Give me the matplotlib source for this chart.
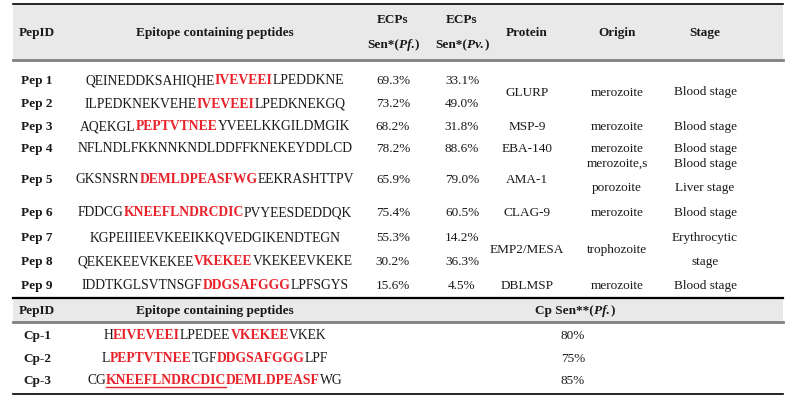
import re
import matplotlib.pyplot as plt
from matplotlib.patches import Rectangle

plt.rcParams['font.family'] = ['Liberation Serif', 'DejaVu Serif']

# table data
pep_ids = ['Pep 1', 'Pep 2', 'Pep 3', 'Pep 4', 'Pep 5', 'Pep 6', 'Pep 7', 'Pep 8', 'Pep 9']
# [..] = epitope (red bold), {..} = red bold underlined
pep_seqs = ['QEINEDDKSAHIQHE[IVEVEEI]LPEDDKNE',
            'ILPEDKNEKVEHE[IVEVEEI]LPEDKNEKGQ',
            'AQEKGL[PEPTVTNEE]YVEELKKGILDMGIK',
            'NFLNDLFKKNNKNDLDDFFKNEKEYDDLCD',
            'GKSNSRN[DEMLDPEASFWG]EEKRASHTTPV',
            'FDDCG[KNEEFLNDRCDIC]PVYEESDEDDQK',
            'KGPEIIIEEVKEEIKKQVEDGIKENDTEGN',
            'QEKEKEEVKEKEE[VKEKEE]VKEKEEVKEKE',
            'IDDTKGLSVTNSGF[DDGSAFGGG]LPFSGYS']
sen_pf = ['69.3%', '73.2%', '68.2%', '78.2%', '65.9%', '75.4%', '55.3%', '30.2%', '15.6%']
sen_pv = ['33.1%', '49.0%', '31.8%', '88.6%', '79.0%', '60.5%', '14.2%', '36.3%', '4.5%']

# merged cells: (first row, last row)
groups = [(0, 1), (2, 2), (3, 3), (4, 4), (5, 5), (6, 7), (8, 8)]
proteins = ['GLURP', 'MSP-9', 'EBA-140', 'AMA-1', 'CLAG-9', 'EMP2/MESA', 'DBLMSP']
origins = ['merozoite', 'merozoite', 'merozoite', 'merozoite,s\nporozoite',
           'merozoite', 'trophozoite', 'merozoite']
stages = ['Blood stage', 'Blood stage', 'Blood stage', 'Blood stage\nLiver stage',
          'Blood stage', 'Erythrocytic\nstage', 'Blood stage']

cp_ids = ['Cp-1', 'Cp-2', 'Cp-3']
cp_seqs = ['H[EIVEVEEI]LPEDEE[VKEKEE]VKEK',
           'L[PEPTVTNEE]TGF[DDGSAFGGG]LPF',
           'CG{KNEEFLNDRCDIC}[DEMLDPEASF]WG']
cp_sen = ['80%', '75%', '85%']

# layout (pixels)
W, H = 800, 406
col_x = {'id': 37, 'seq': 215, 'pf': 393, 'pv': 462, 'prot': 527, 'orig': 617, 'stage': 705}
row_y = [81, 104, 127, 149, 180, 213, 238, 262, 286]
cp_y = [336, 359, 381]
x0, x1 = 13, 783
FS = 9.5
SEQ_FS = 9.8
RED = '#e8232b'
INK = '#1a1a1a'

fig = plt.figure(figsize=(W / 100, H / 100), dpi=100)
ax = fig.add_axes([0, 0, 1, 1])
ax.set_xlim(0, W)
ax.set_ylim(H, 0)
ax.axis('off')
renderer = fig.canvas.get_renderer()


def text_width(s, **kw):
    # advance width, without matplotlib's bbox padding
    t1 = ax.text(0, 0, '|' + s + '|', **kw)
    t2 = ax.text(0, 0, '||', **kw)
    w = t1.get_window_extent(renderer).width - t2.get_window_extent(renderer).width
    t1.remove()
    t2.remove()
    return w


def draw_runs(x, y, runs, size=FS):
    # runs: list of (text, weight, style, color, underline); centred on x
    widths = [text_width(s, fontsize=size, fontweight=w, fontstyle=st)
              for s, w, st, c, u in runs]
    cx = x - sum(widths) / 2
    for (s, w, st, c, u), wd in zip(runs, widths):
        ax.text(cx, y, s, fontsize=size, fontweight=w, fontstyle=st, color=c,
                ha='left', va='center')
        if u:
            ax.plot([cx, cx + wd], [y + 6.5, y + 6.5], color=c, lw=1.0)
        cx += wd


def seq_runs(seq):
    runs = []
    for part in re.split(r'(\[[^\]]*\]|\{[^}]*\})', seq):
        if not part:
            continue
        if part[0] == '[':
            runs.append((part[1:-1], 'bold', 'normal', RED, False))
        elif part[0] == '{':
            runs.append((part[1:-1], 'bold', 'normal', RED, True))
        else:
            runs.append((part, 'normal', 'normal', INK, False))
    return runs


def cell(x, y, s, bold=False):
    lines = s.split('\n')
    off = (len(lines) - 1) * 12
    for i, ln in enumerate(lines):
        ax.text(x, y - off + i * 24, ln, fontsize=FS, ha='center', va='center', color=INK,
                fontweight='bold' if bold else 'normal')


# header shading and rules
ax.add_patch(Rectangle((x0, 5), x1 - x0, 56, color='#e9e9e9', lw=0))
ax.add_patch(Rectangle((x0, 300), x1 - x0, 23, color='#e9e9e9', lw=0))
ax.plot([x0, x1], [5, 5], color='black', lw=1.2)
ax.plot([x0, x1], [61, 61], color='#808080', lw=2)
ax.plot([x0, x1], [299, 299], color='black', lw=1.6)
ax.plot([x0, x1], [323, 323], color='#808080', lw=2)
ax.plot([x0, x1], [395, 395], color='black', lw=1.2)

# header text
hy = 33
cell(col_x['id'], hy, 'PepID', bold=True)
cell(col_x['seq'], hy, 'Epitope containing peptides', bold=True)
for key, sp in (('pf', 'Pf.'), ('pv', 'Pv.')):
    cell(col_x[key], 20, 'ECPs', bold=True)
    draw_runs(col_x[key], 45, [('Sen*(', 'bold', 'normal', INK, False),
                               (sp, 'bold', 'italic', INK, False),
                               (')', 'bold', 'normal', INK, False)])
cell(col_x['prot'], hy, 'Protein', bold=True)
cell(col_x['orig'], hy, 'Origin', bold=True)
cell(col_x['stage'], hy, 'Stage', bold=True)

# peptide rows
for i, y in enumerate(row_y):
    cell(col_x['id'], y, pep_ids[i], bold=True)
    draw_runs(col_x['seq'], y, seq_runs(pep_seqs[i]), size=SEQ_FS)
    cell(col_x['pf'], y, sen_pf[i])
    cell(col_x['pv'], y, sen_pv[i])

for (a, b), p, o, s in zip(groups, proteins, origins, stages):
    y = (row_y[a] + row_y[b]) / 2
    cell(col_x['prot'], y, p)
    if a == 4:
        y = 176
    cell(col_x['orig'], y, o)
    cell(col_x['stage'], y, s)

# combined peptide section
cell(col_x['id'], 311, 'PepID', bold=True)
cell(col_x['seq'], 311, 'Epitope containing peptides', bold=True)
draw_runs(575, 311, [('Cp Sen**(', 'bold', 'normal', INK, False),
                     ('Pf.', 'bold', 'italic', INK, False),
                     (')', 'bold', 'normal', INK, False)])
for i, y in enumerate(cp_y):
    cell(col_x['id'], y, cp_ids[i], bold=True)
    draw_runs(col_x['seq'], y, seq_runs(cp_seqs[i]), size=SEQ_FS)
    cell(573, y, cp_sen[i])

fig.savefig('out.png', dpi=100)
